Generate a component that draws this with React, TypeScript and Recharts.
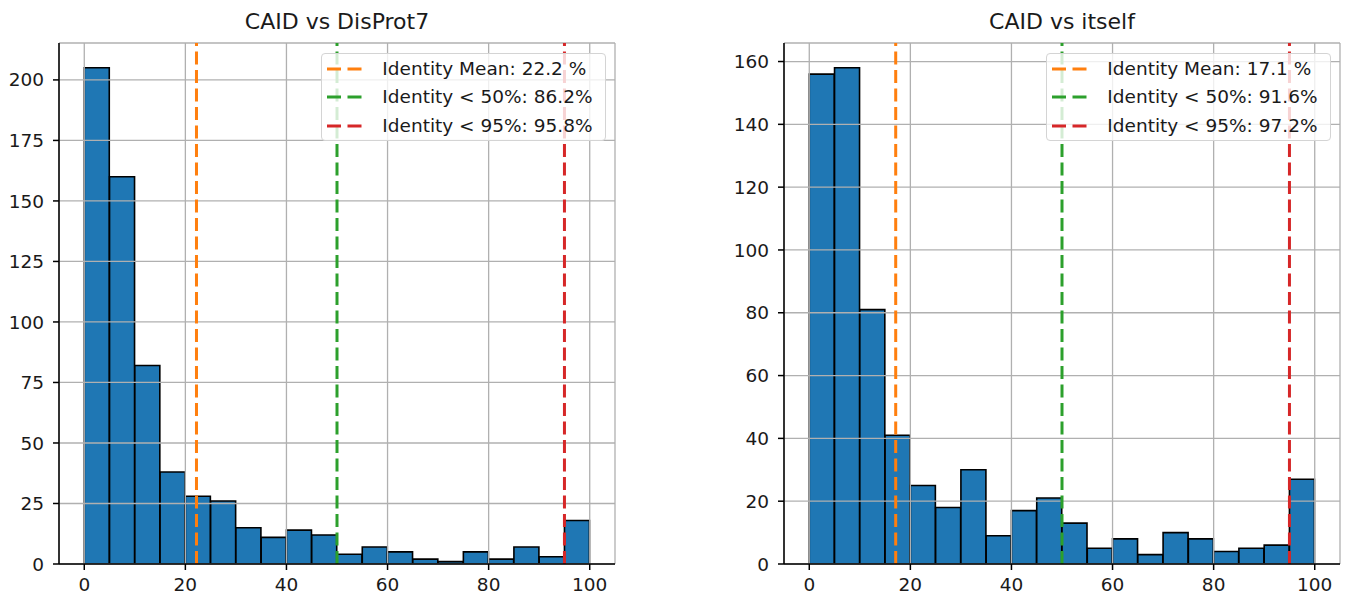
import React from 'react';
import {
  ComposedChart,
  Bar,
  XAxis,
  YAxis,
  CartesianGrid,
  ReferenceLine,
} from 'recharts';

// Histogram bins (left edge of each 5 %-wide bin of sequence identity)
const BIN_STARTS = [0, 5, 10, 15, 20, 25, 30, 35, 40, 45, 50, 55, 60, 65, 70, 75, 80, 85, 90, 95];
const BIN_WIDTH = 5;

// Counts per bin
const DISPROT_COUNTS = [205, 160, 82, 38, 28, 26, 15, 11, 14, 12, 4, 7, 5, 2, 1, 5, 2, 7, 3, 18];
const SELF_COUNTS = [156, 158, 81, 41, 25, 18, 30, 9, 17, 21, 13, 5, 8, 3, 10, 8, 4, 5, 6, 27];

// Axis ticks
const X_TICKS = [0, 20, 40, 60, 80, 100];
const X_DOMAIN: [number, number] = [-5, 105];
const DISPROT_Y_TICKS = [0, 25, 50, 75, 100, 125, 150, 175, 200];
const SELF_Y_TICKS = [0, 20, 40, 60, 80, 100, 120, 140, 160];

// Vertical marker lines (mean, 50 % and 95 % thresholds)
const MARKER_COLORS = ['#ff7f0e', '#2ca02c', '#d62728'];
const DISPROT_MARKERS = [22.2, 50, 95];
const SELF_MARKERS = [17.1, 50, 95];
const DISPROT_LABELS = ['Identity Mean: 22.2 %', 'Identity < 50%: 86.2%', 'Identity < 95%: 95.8%'];
const SELF_LABELS = ['Identity Mean: 17.1 %', 'Identity < 50%: 91.6%', 'Identity < 95%: 97.2%'];

const FONT = '"DejaVu Sans", "Liberation Sans", sans-serif';
const TEXT_COLOR = '#1a1a1a';
const PANEL_W = 675;
const PANEL_H = 599;
const PLOT_TOP = 43;
const PLOT_BOTTOM = 564;

type PanelProps = {
  title: string;
  counts: number[];
  yTicks: number[];
  markers: number[];
  labels: string[];
  left: number;
  yAxisWidth: number;
  marginRight: number;
};

function Panel({ title, counts, yTicks, markers, labels, left, yAxisWidth, marginRight }: PanelProps) {
  const data = BIN_STARTS.map((start, i) => ({ mid: start + BIN_WIDTH / 2, count: counts[i] }));
  const yMax = Math.max(...counts) * 1.05;
  const yDomain: [number, number] = [0, yMax];
  const plotLeft = yAxisWidth;
  const plotRight = PANEL_W - marginRight;
  const tickStyle = { fontSize: 18.5, fill: TEXT_COLOR, fontFamily: FONT };
  const spine = { stroke: '#000', strokeWidth: 1.5 };

  return (
    <div style={{ position: 'absolute', left, top: 0, width: PANEL_W, height: PANEL_H }}>
      <ComposedChart
        width={PANEL_W}
        height={PANEL_H}
        data={data}
        margin={{ top: PLOT_TOP, right: marginRight, bottom: 0, left: 0 }}
        barCategoryGap={0}
        barGap={0}
      >
        <XAxis
          dataKey="mid"
          type="number"
          domain={X_DOMAIN}
          ticks={X_TICKS}
          interval={0}
          height={PANEL_H - PLOT_BOTTOM}
          tick={tickStyle}
          tickSize={6}
          tickMargin={8}
          tickLine={spine}
          axisLine={spine}
          allowDataOverflow
        />
        <XAxis
          xAxisId="top"
          orientation="top"
          type="number"
          domain={X_DOMAIN}
          height={0}
          tick={false}
          tickLine={false}
          axisLine={spine}
        />
        <YAxis
          type="number"
          domain={yDomain}
          ticks={yTicks}
          interval={0}
          width={yAxisWidth}
          tick={tickStyle}
          tickSize={6}
          tickMargin={9}
          tickLine={spine}
          axisLine={spine}
          allowDataOverflow
        />
        <YAxis
          yAxisId="right"
          orientation="right"
          type="number"
          domain={yDomain}
          width={0}
          tick={false}
          tickLine={false}
          axisLine={spine}
        />
        <Bar
          dataKey="count"
          fill="#1f77b4"
          stroke="#000"
          strokeWidth={1.6}
          isAnimationActive={false}
        />
        <CartesianGrid stroke="#b0b0b0" strokeWidth={1.3} zIndex={350} />
        {markers.map((x, i) => (
          <ReferenceLine
            key={i}
            x={x}
            stroke={MARKER_COLORS[i]}
            strokeWidth={3}
            strokeDasharray="13 5.5"
            zIndex={450}
          />
        ))}
      </ComposedChart>

      <div
        style={{
          position: 'absolute',
          left: 0,
          width: (plotLeft + plotRight),
          top: 10.7,
          textAlign: 'center',
          fontFamily: FONT,
          fontSize: 22,
          lineHeight: '22px',
          color: TEXT_COLOR,
          whiteSpace: 'nowrap',
        }}
      >
        {title}
      </div>

      <div
        style={{
          position: 'absolute',
          right: PANEL_W - (plotRight - 9.5),
          top: PLOT_TOP + 9.5,
          height: 88,
          boxSizing: 'border-box',
          border: '1px solid #d4d4d4',
          borderRadius: 4,
          background: 'rgba(255,255,255,0.8)',
          paddingTop: 1.5,
          paddingRight: 12,
          fontFamily: FONT,
          fontSize: 18.5,
          color: TEXT_COLOR,
        }}
      >
        {labels.map((label, i) => (
          <div
            key={i}
            style={{ position: 'relative', height: 28.3, lineHeight: '28.3px', paddingLeft: 60, whiteSpace: 'nowrap' }}
          >
            <svg
              width={35}
              height={6}
              style={{ position: 'absolute', left: 5, top: 11.2 }}
            >
              <line x1={0} y1={3} x2={35} y2={3} stroke={MARKER_COLORS[i]} strokeWidth={3} strokeDasharray="14 6.5" />
            </svg>
            {label}
          </div>
        ))}
      </div>
    </div>
  );
}

export default function App() {
  return (
    <div style={{ position: 'absolute', left: 0, top: 0, width: 1350, height: 599, background: '#fff' }}>
      <Panel
        title="CAID vs DisProt7"
        counts={DISPROT_COUNTS}
        yTicks={DISPROT_Y_TICKS}
        markers={DISPROT_MARKERS}
        labels={DISPROT_LABELS}
        left={0}
        yAxisWidth={59}
        marginRight={60}
      />
      <Panel
        title="CAID vs itself"
        counts={SELF_COUNTS}
        yTicks={SELF_Y_TICKS}
        markers={SELF_MARKERS}
        labels={SELF_LABELS}
        left={675}
        yAxisWidth={109}
        marginRight={10}
      />
    </div>
  );
}
